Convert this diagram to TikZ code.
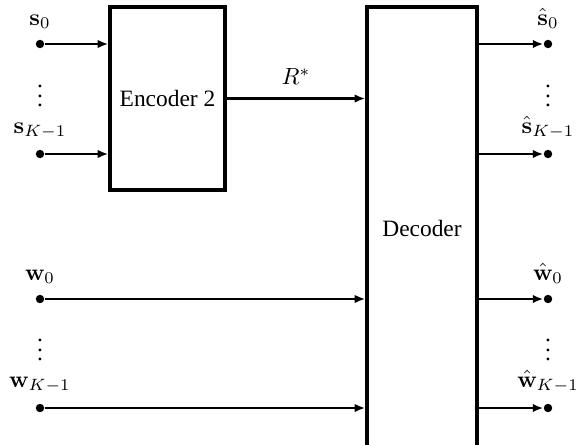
\documentclass[tikz,border=0pt]{standalone}
\usepackage{amsmath,amssymb}
\usepackage[no-math]{fontspec}
\setmainfont{Liberation Serif}
\usetikzlibrary{arrows.meta}

\begin{document}
\begin{tikzpicture}[x=0.015cm, y=-0.015cm,
    box/.style={draw, line width=1.5pt, rectangle, inner sep=0pt},
    term/.style={circle, fill, inner sep=0pt, minimum size=3.6pt},
    sig/.style={line width=1pt, -{Latex[length=4.5pt,width=3.6pt]}}]
    \useasboundingbox (0,0) rectangle (584,444);

    % blocks
    \node[box, minimum width=1.725cm, minimum height=2.745cm] (enc) at (167.5,98.5) {Encoder 2};
    \node[box, minimum width=1.65cm, minimum height=6.645cm] (dec) at (422,228.5) {Decoder};

    % inputs
    \node[term, label={[label distance=1pt]above:$\mathbf{s}_0$}] (s0) at (40,44) {};
    \node[term, label={[label distance=1pt]above:$\mathbf{s}_{K-1}$}] (sK) at (40,154) {};
    \node[term, label={[label distance=1pt]above:$\mathbf{w}_0$}] (w0) at (40,299) {};
    \node[term, label={[label distance=1pt]above:$\mathbf{w}_{K-1}$}] (wK) at (40,408) {};
    \node[inner sep=0pt] (vs) at (40,89) {$\vdots$};
    \node[inner sep=0pt] (vw) at (40,343) {$\vdots$};

    % outputs
    \node[term, label={[label distance=1pt]above:$\hat{\mathbf{s}}_0$}] (sh0) at (548,44) {};
    \node[term, label={[label distance=1pt]above:$\hat{\mathbf{s}}_{K-1}$}] (shK) at (548,154) {};
    \node[term, label={[label distance=1pt]above:$\hat{\mathbf{w}}_0$}] (wh0) at (548,299) {};
    \node[term, label={[label distance=1pt]above:$\hat{\mathbf{w}}_{K-1}$}] (whK) at (548,408) {};
    \node[inner sep=0pt] (vsh) at (548,89) {$\vdots$};
    \node[inner sep=0pt] (vwh) at (548,343) {$\vdots$};

    % connections
    \draw[sig] (s0) -- (s0 -| enc.west);
    \draw[sig] (sK) -- (sK -| enc.west);
    \draw[sig] (enc.east) -- node[above=2pt] {$R^*$} (enc.east -| dec.west);
    \draw[sig] (w0) -- (w0 -| dec.west);
    \draw[sig] (wK) -- (wK -| dec.west);
    \draw[sig] (sh0 -| dec.east) -- (sh0);
    \draw[sig] (shK -| dec.east) -- (shK);
    \draw[sig] (wh0 -| dec.east) -- (wh0);
    \draw[sig] (whK -| dec.east) -- (whK);
\end{tikzpicture}
\end{document}
